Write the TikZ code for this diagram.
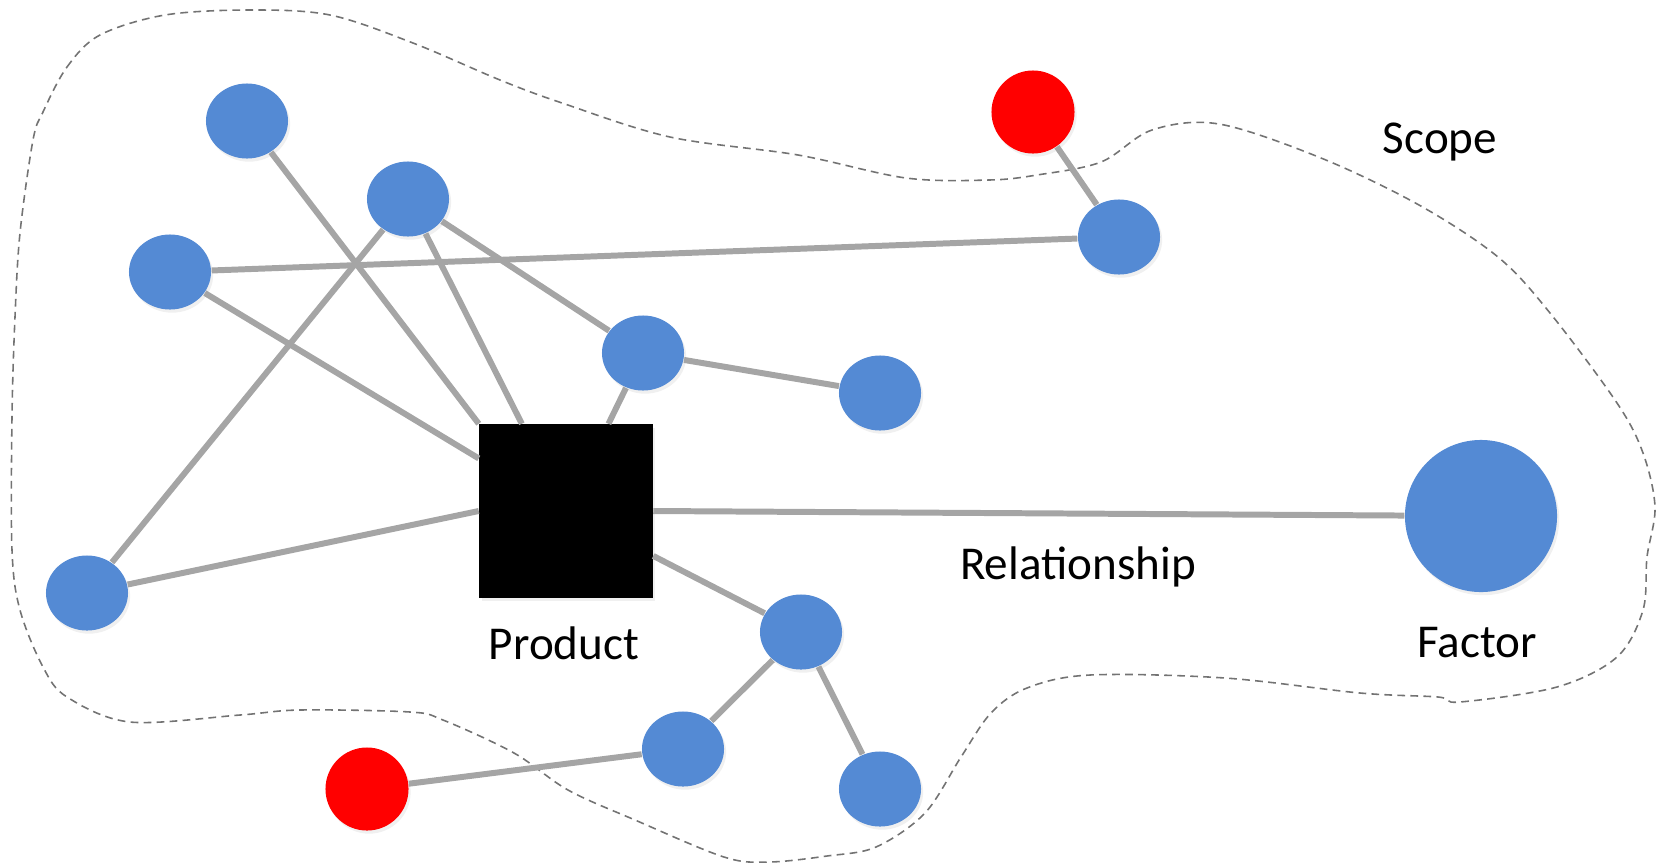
\documentclass[tikz,border=0pt]{standalone}
\usepackage{fontspec}
\setmainfont{Carlito}
\usetikzlibrary{shapes.geometric,shadows}

\definecolor{nodeblue}{RGB}{84,138,212}
\definecolor{linkgray}{RGB}{165,165,165}
\definecolor{scopegray}{RGB}{115,115,115}

\tikzset{
    item/.style={ellipse, fill=nodeblue, minimum width=0.82cm, minimum height=0.75cm, inner sep=0pt,
        drop shadow={opacity=0.12, shadow xshift=0.6pt, shadow yshift=-0.9pt}},
    outside/.style={circle, fill=red, minimum size=0.83cm, inner sep=0pt,
        drop shadow={opacity=0.12, shadow xshift=0.6pt, shadow yshift=-0.9pt}},
    link/.style={draw=linkgray, line width=1.7pt},
    tag/.style={font=\fontsize{13.4}{16}\selectfont, inner sep=0pt}
}

\begin{document}
\begin{tikzpicture}[x=0.01cm, y=-0.01cm]
    \useasboundingbox (0,0) rectangle (1666,866);
    % Draw scope boundary
    \draw[scopegray, line width=0.45pt, dash pattern=on 2.2pt off 1.5pt]
        plot[smooth cycle, tension=0.55] coordinates {
        (43,112) (67,67) (100,35) (165,15) (250,10) (330,15) (413,43) (500,80)
        (562,103) (670,137) (798,155) (906,178) (989,180) (1037,175) (1101,162)
        (1152,130) (1219,124) (1321,158) (1419,205) (1498,257) (1550,313)
        (1617,403) (1643,453) (1655,507) (1647,557) (1643,610) (1617,657)
        (1557,687) (1460,702) (1438,697) (1360,693) (1225,678) (1090,675)
        (1027,688) (991,713) (961,757) (925,813) (876,847) (827,856) (769,862)
        (724,857) (635,820) (568,790) (514,753) (443,720) (410,712) (300,710)
        (240,715) (130,722) (67,697) (43,667) (20,610) (12,550) (12,417)
        (15,317) (20,233) (33,140)};
    % Draw product
    \node[fill=black, minimum size=1.73cm, inner sep=0pt,
        drop shadow={opacity=0.12, shadow xshift=0.6pt, shadow yshift=-0.9pt}] (prod) at (566,511) {};
    % Draw factor
    \node[circle, fill=nodeblue, minimum size=1.52cm, inner sep=0pt,
        drop shadow={opacity=0.12, shadow xshift=0.6pt, shadow yshift=-0.9pt}] (factor) at (1481,516) {};
    % Draw other items
    \node[item] (a) at (247,121) {};
    \node[item] (b) at (408,199) {};
    \node[item] (c) at (170,272) {};
    \node[item] (d) at (87,593) {};
    \node[item] (e) at (643,353) {};
    \node[item] (f) at (880,393) {};
    \node[item] (g) at (1119,237) {};
    \node[item] (h) at (801,632) {};
    \node[item] (i) at (683,749) {};
    \node[item] (j) at (880,789) {};
    \node[outside] (r1) at (1033,112) {};
    \node[outside] (r2) at (367,789) {};
    % Draw links
    \draw[link] (a) -- (prod.north west);
    \draw[link] (b) -- (prod);
    \draw[link] (b) -- (d);
    \draw[link] (b) -- (e);
    \draw[link] (c) -- (prod);
    \draw[link] (c) -- (g);
    \draw[link] (e) -- (prod);
    \draw[link] (e) -- (f);
    \draw[link] (d) -- (prod.west);
    \draw[link] (prod.east) -- (factor);
    \draw[link] (prod) -- (h);
    \draw[link] (h) -- (i);
    \draw[link] (h) -- (j);
    \draw[link] (i) -- (r2);
    \draw[link] (g) -- (r1);
    % Labels
    \node[tag] (scopetxt) at (1440,142) {Scope};
    \node[tag] (prodtxt) at (564,643) {Product};
    \node[tag] (reltxt) at (1078,567) {Relationship};
    \node[tag] (factortxt) at (1477,643) {Factor};
\end{tikzpicture}
\end{document}
